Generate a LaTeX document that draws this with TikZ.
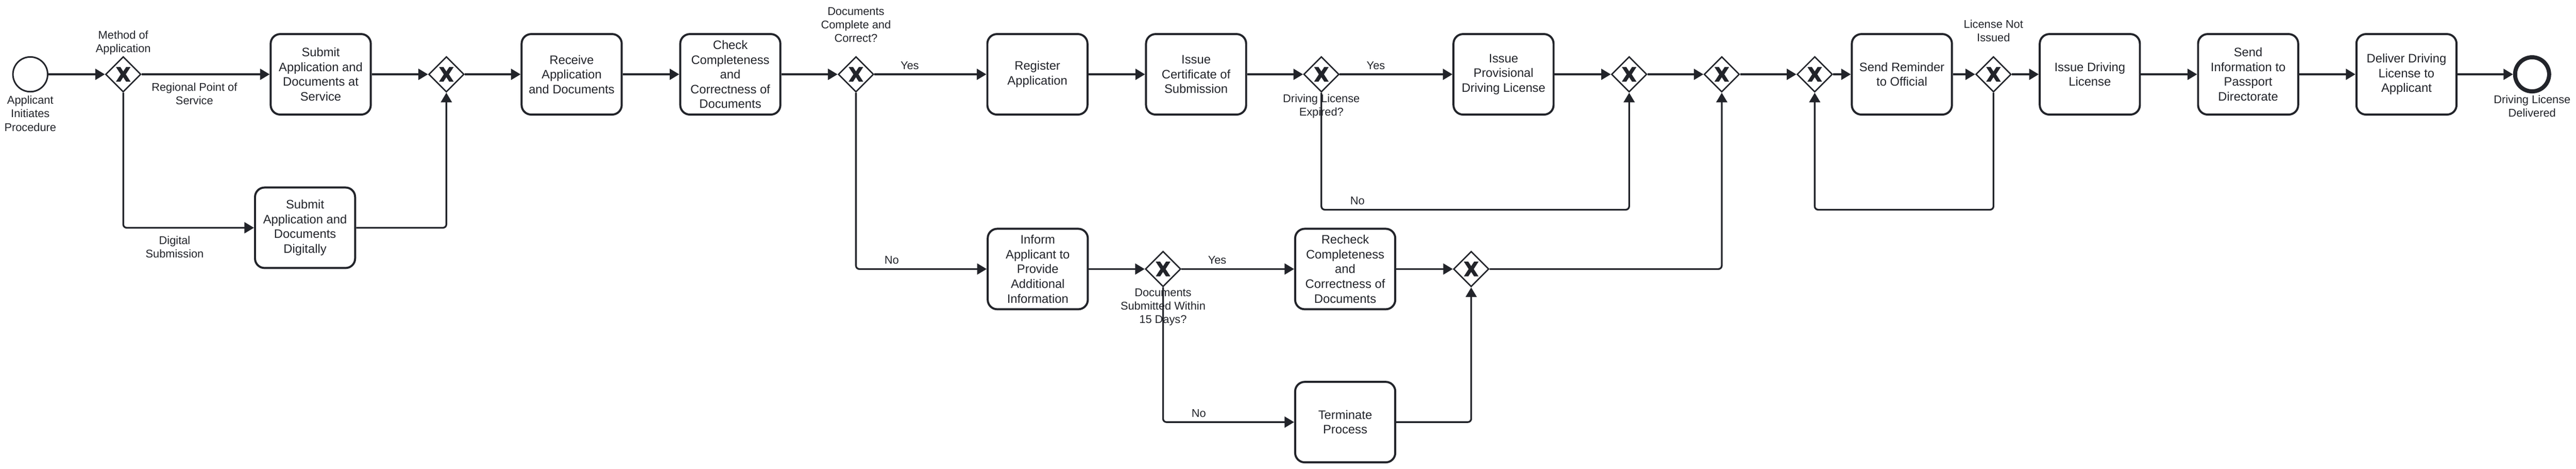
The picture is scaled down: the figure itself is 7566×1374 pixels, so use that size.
\documentclass[tikz,border=0pt]{standalone}
\usepackage{fontspec}
\setmainfont{Liberation Sans}
\usetikzlibrary{shapes.geometric,arrows.meta,calc}
\definecolor{ink}{HTML}{22242A}
\begin{document}
\begin{tikzpicture}[x=0.5pt,y=-0.5pt,
  task/.style={draw=ink, line width=3pt, rounded corners=14pt, minimum width=147pt, minimum height=118pt, inner sep=0pt, align=center, text=ink, font=\fontsize{18}{21.6}\selectfont, fill=white},
  gate/.style={diamond, draw=ink, line width=2pt, minimum width=52pt, minimum height=52pt, inner sep=0pt, aspect=1, fill=white},
  startev/.style={circle, draw=ink, line width=2.25pt, minimum size=51pt, inner sep=0pt, fill=white},
  endev/.style={circle, draw=ink, line width=6pt, minimum size=50pt, inner sep=0pt, fill=white},
  lbl/.style={text=ink, align=center, font=\fontsize{16.5}{19.8}\selectfont, inner sep=0pt},
  flow/.style={draw=ink, line width=2.5pt, rounded corners=5pt, -{Triangle[length=14pt,width=16pt]}},
]
\fill[white] (0,0) rectangle (7566,1374);
\useasboundingbox (0,0) rectangle (7566,1374);

% events
\node[startev] (s) at (89,218) {};
\node[lbl] (sl) at (89,333) {Applicant\\Initiates\\Procedure};
\node[endev] (e) at (7437,218) {};
\node[lbl] (el) at (7437,311) {Driving License\\Delivered};

% gateways
\node[gate] (g1) at (362,218) {};
\node[gate] (g2) at (1311,218) {};
\node[gate] (g3) at (2514,218) {};
\node[gate] (g4) at (3881,218) {};
\node[gate] (g5) at (3416,789) {};
\node[gate] (g6) at (4785,218) {};
\node[gate] (g7) at (5057,218) {};
\node[gate] (g8) at (5330,218) {};
\node[gate] (g9) at (5855,218) {};
\node[gate] (gm) at (4321,789) {};

\foreach \g in {g1,g2,g3,g4,g5,g6,g7,g8,g9,gm}
  \fill[ink,shift={(\g)}] (-21.5,-21.5) -- (-7.5,0) -- (-21.5,21.5) -- (-8.5,21.5) -- (0,8.5) -- (8.5,21.5) -- (21.5,21.5) -- (7.5,0) -- (21.5,-21.5) -- (8.5,-21.5) -- (0,-8.5) -- (-8.5,-21.5) -- cycle;

% tasks
\node[task] (t1) at (942,218) {Submit\\Application and\\Documents at\\Service};
\node[task] (t2) at (896,668) {Submit\\Application and\\Documents\\Digitally};
\node[task] (t3) at (1679,218) {Receive\\Application\\and Documents};
\node[task] (t4) at (2145,218) {Check\\Completeness\\and\\Correctness of\\Documents};
\node[task] (t5) at (3047,218) {Register\\Application};
\node[task] (t6) at (3513,218) {Issue\\Certificate of\\Submission};
\node[task] (t7) at (4416,218) {Issue\\Provisional\\Driving License};
\node[task] (t8) at (5586,218) {Send Reminder\\to Official};
\node[task] (t9) at (6138,218) {Issue Driving\\License};
\node[task] (t10) at (6603,218) {Send\\Information to\\Passport\\Directorate};
\node[task] (t11) at (7068,218) {Deliver Driving\\License to\\Applicant};
\node[task] (t12) at (3048,789) {Inform\\Applicant to\\Provide\\Additional\\Information};
\node[task] (t13) at (3951,789) {Recheck\\Completeness\\and\\Correctness of\\Documents};
\node[task] (t14) at (3951,1238) {Terminate\\Process};

% gateway labels
\node[lbl] (g1l) at (362,126) {Method of\\Application};
\node[lbl] (g3l) at (2514,73) {Documents\\Complete and\\Correct?};
\node[lbl] (g4l) at (3881,312) {Driving License\\Expired?};
\node[lbl] (g5l) at (3416,901) {Documents\\Submitted Within\\15 Days?};
\node[lbl] (g9l) at (5855,90) {License Not\\Issued};

% flow labels
\node[lbl] (f1) at (571,275) {Regional Point of\\Service};
\node[lbl] (f2) at (513,725) {Digital\\Submission};
\node[lbl] (f3) at (2672,192) {Yes};
\node[lbl] (f4) at (2619,763) {No};
\node[lbl] (f5) at (4041,192) {Yes};
\node[lbl] (f6) at (3987,589) {No};
\node[lbl] (f7) at (3575,763) {Yes};
\node[lbl] (f8) at (3521,1212) {No};

\coordinate (loopA) at (3881,615);
\coordinate (loopB) at (5855,615);

% flows
\draw[flow] (s) -- (g1);
\draw[flow] (g1) -- (t1);
\draw[flow] (g1.south) |- (t2.west);
\draw[flow] (t1) -- (g2);
\draw[flow] (t2.east) -| (g2.south);
\draw[flow] (g2) -- (t3);
\draw[flow] (t3) -- (t4);
\draw[flow] (t4) -- (g3);
\draw[flow] (g3) -- (t5);
\draw[flow] (g3.south) |- (t12.west);
\draw[flow] (t5) -- (t6);
\draw[flow] (t6) -- (g4);
\draw[flow] (g4) -- (t7);
\draw[flow] (g4.south) -- (loopA) -| (g6.south);
\draw[flow] (t7) -- (g6);
\draw[flow] (g6) -- (g7);
\draw[flow] (g7) -- (g8);
\draw[flow] (g8) -- (t8);
\draw[flow] (t8) -- (g9);
\draw[flow] (g9.south) -- (loopB) -| (g8.south);
\draw[flow] (g9) -- (t9);
\draw[flow] (t9) -- (t10);
\draw[flow] (t10) -- (t11);
\draw[flow] (t11) -- (e);
\draw[flow] (t12) -- (g5);
\draw[flow] (g5) -- (t13);
\draw[flow] (g5.south) |- (t14.west);
\draw[flow] (t13) -- (gm);
\draw[flow] (t14.east) -| (gm.south);
\draw[flow] (gm.east) -| (g7.south);
\end{tikzpicture}
\end{document}
